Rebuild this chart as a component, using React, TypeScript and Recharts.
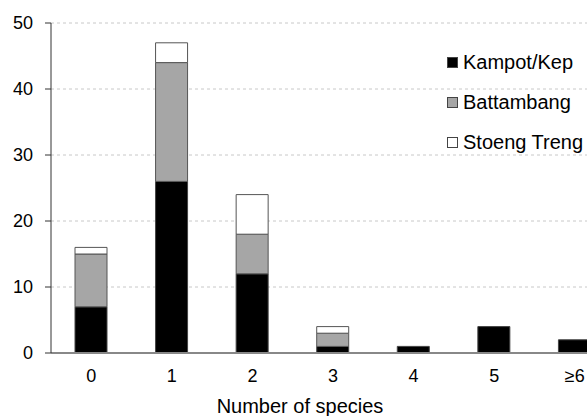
import React from "react";
import { BarChart, Bar, XAxis, YAxis, CartesianGrid, Legend, Label } from "recharts";

const categories = ["0", "1", "2", "3", "4", "5", "≥6"];
const kampot = [7, 26, 12, 1, 1, 4, 2];
const battambang = [8, 18, 6, 2, 0, 0, 0];
const stoeng = [1, 3, 6, 1, 0, 0, 0];
const yTicks = [0, 10, 20, 30, 40, 50];

const seriesNames = ["Kampot/Kep", "Battambang", "Stoeng Treng"];
const seriesColors = ["#000000", "#a6a6a6", "#ffffff"];

const data = categories.map((c, i) => ({
  cat: c,
  k: kampot[i],
  b: battambang[i],
  s: stoeng[i],
}));

const FONT = "'Liberation Sans', Arial, sans-serif";

const LegendContent = () => {
  return (
    <div style={{ fontFamily: FONT }}>
      {seriesNames.map((name, i) => (
        <div key={i} style={{ display: "flex", alignItems: "center", height: 40 }}>
          <span
            style={{
              display: "inline-block",
              width: 9,
              height: 9,
              background: seriesColors[i],
              border: "1px solid #444",
              marginRight: 5,
            }}
          />
          <span style={{ fontSize: 20, color: "#000", whiteSpace: "nowrap" }}>{name}</span>
        </div>
      ))}
    </div>
  );
};

export default function App() {
  return (
    <div style={{ position: "absolute", left: 0, top: 0, width: 587, height: 416, overflow: "hidden", background: "#fff" }}>
      <BarChart
        width={630}
        height={416}
        data={data}
        margin={{ top: 23, right: 15, left: 0, bottom: 3 }}
        barSize={32}
      >
        <CartesianGrid vertical={false} stroke="#c8c8c8" strokeDasharray="3 3" />
        <XAxis
          dataKey="cat"
          height={60}
          tickLine={false}
          tickSize={0}
          tickMargin={16}
          axisLine={{ stroke: "#888888", strokeWidth: 2 }}
          tick={{ fill: "#000", fontSize: 18, fontFamily: FONT }}
          interval={0}
        >
          <Label
            value="Number of species"
            position="insideBottom"
            offset={0}
            dx={-33}
            style={{ fill: "#000", fontSize: 20, fontFamily: FONT }}
          />
        </XAxis>
        <YAxis
          width={51}
          domain={[0, 50]}
          ticks={yTicks}
          tickSize={6}
          tickMargin={12}
          axisLine={{ stroke: "#333" }}
          tickLine={{ stroke: "#333" }}
          tick={{ fill: "#000", fontSize: 18, fontFamily: FONT }}
        />
        <Legend
          layout="horizontal"
          verticalAlign="middle"
          align="center"
          wrapperStyle={{ left: 447, top: 42, width: 160 }}
          content={<LegendContent />}
        />
        <Bar dataKey="k" name={seriesNames[0]} stackId="a" fill={seriesColors[0]} stroke="#444" strokeWidth={1} isAnimationActive={false} />
        <Bar dataKey="b" name={seriesNames[1]} stackId="a" fill={seriesColors[1]} stroke="#555" strokeWidth={1} isAnimationActive={false} />
        <Bar dataKey="s" name={seriesNames[2]} stackId="a" fill={seriesColors[2]} stroke="#555" strokeWidth={1} isAnimationActive={false} />
      </BarChart>
    </div>
  );
}
